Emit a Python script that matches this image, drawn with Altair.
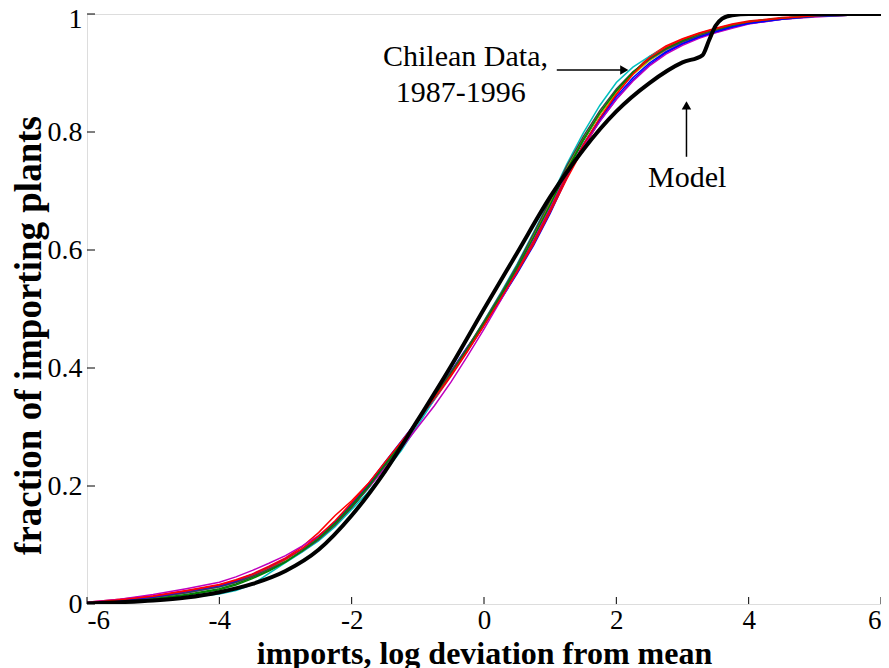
import altair as alt
import pandas as pd

# ---------------- data ----------------
x_grid = [-6, -5.5, -5, -4.5, -4, -3.75, -3.5, -3.25, -3, -2.75, -2.5, -2.25, -2,
          -1.75, -1.5, -1.25, -1, -0.75, -0.5, -0.25, 0, 0.25, 0.5, 0.75, 1, 1.25,
          1.5, 1.75, 2, 2.25, 2.5, 2.75, 3, 3.25, 3.5, 3.75, 4, 4.5, 5, 5.5, 6]

years = ["1987", "1988", "1989", "1990", "1991", "1992", "1993", "1994", "1995", "1996"]
year_colors = ["#0000FF", "#008000", "#FF0000", "#00BFBF", "#BF00BF",
               "#BFBF00", "#404040", "#0000FF", "#008000", "#FF0000"]

y1987 = [0.002, 0.005, 0.011, 0.019, 0.029, 0.037, 0.047, 0.060, 0.074, 0.092, 0.113, 0.139, 0.170,
         0.203, 0.240, 0.276, 0.312, 0.352, 0.394, 0.436, 0.474, 0.515, 0.560, 0.608, 0.662, 0.722,
         0.776, 0.818, 0.856, 0.888, 0.914, 0.934, 0.949, 0.960, 0.969, 0.977, 0.984, 0.991, 0.996, 0.998, 1.0]
y1988 = [0.001, 0.004, 0.009, 0.016, 0.026, 0.034, 0.045, 0.057, 0.071, 0.089, 0.109, 0.134, 0.163,
         0.196, 0.233, 0.270, 0.309, 0.349, 0.389, 0.430, 0.474, 0.520, 0.568, 0.620, 0.676, 0.733,
         0.785, 0.830, 0.868, 0.899, 0.922, 0.940, 0.953, 0.964, 0.973, 0.980, 0.986, 0.993, 0.997, 0.999, 1.0]
y1989 = [0.003, 0.008, 0.014, 0.023, 0.033, 0.041, 0.051, 0.064, 0.078, 0.097, 0.121, 0.150, 0.175,
         0.204, 0.238, 0.272, 0.308, 0.346, 0.386, 0.428, 0.472, 0.516, 0.562, 0.610, 0.664, 0.720,
         0.772, 0.820, 0.864, 0.900, 0.928, 0.946, 0.958, 0.968, 0.976, 0.983, 0.988, 0.994, 0.997, 0.998, 1.0]
y1990 = [0.001, 0.003, 0.006, 0.011, 0.017, 0.023, 0.033, 0.052, 0.070, 0.088, 0.107, 0.131, 0.160,
         0.190, 0.224, 0.260, 0.303, 0.347, 0.390, 0.434, 0.480, 0.527, 0.576, 0.630, 0.686, 0.745,
         0.798, 0.845, 0.884, 0.910, 0.928, 0.943, 0.955, 0.965, 0.973, 0.980, 0.986, 0.993, 0.997, 0.999, 1.0]
y1991 = [0.003, 0.008, 0.016, 0.026, 0.037, 0.046, 0.057, 0.069, 0.082, 0.098, 0.116, 0.139, 0.166,
         0.196, 0.230, 0.264, 0.300, 0.336, 0.376, 0.420, 0.466, 0.514, 0.564, 0.617, 0.672, 0.728,
         0.776, 0.818, 0.855, 0.886, 0.912, 0.932, 0.947, 0.959, 0.968, 0.976, 0.983, 0.991, 0.995, 0.998, 1.0]
y1992 = [0.002, 0.006, 0.012, 0.020, 0.030, 0.038, 0.048, 0.060, 0.074, 0.091, 0.111, 0.136, 0.166,
         0.198, 0.236, 0.273, 0.311, 0.351, 0.392, 0.434, 0.478, 0.524, 0.572, 0.625, 0.680, 0.738,
         0.788, 0.830, 0.866, 0.897, 0.921, 0.939, 0.952, 0.963, 0.972, 0.979, 0.985, 0.992, 0.996, 0.998, 1.0]
y1993 = [0.002, 0.005, 0.011, 0.019, 0.029, 0.037, 0.047, 0.059, 0.072, 0.089, 0.109, 0.134, 0.164,
         0.197, 0.235, 0.273, 0.312, 0.352, 0.393, 0.435, 0.479, 0.525, 0.574, 0.628, 0.684, 0.742,
         0.792, 0.836, 0.873, 0.902, 0.923, 0.940, 0.953, 0.963, 0.972, 0.979, 0.985, 0.992, 0.996, 0.998, 1.0]
y1994 = [0.002, 0.006, 0.012, 0.021, 0.031, 0.039, 0.050, 0.062, 0.076, 0.093, 0.114, 0.140, 0.170,
         0.201, 0.237, 0.273, 0.310, 0.349, 0.389, 0.431, 0.473, 0.518, 0.565, 0.614, 0.668, 0.726,
         0.779, 0.822, 0.860, 0.892, 0.917, 0.936, 0.950, 0.961, 0.970, 0.978, 0.984, 0.991, 0.996, 0.998, 1.0]
y1995 = [0.001, 0.004, 0.008, 0.015, 0.024, 0.032, 0.043, 0.056, 0.071, 0.090, 0.111, 0.137, 0.167,
         0.199, 0.236, 0.272, 0.310, 0.350, 0.390, 0.432, 0.476, 0.522, 0.570, 0.622, 0.677, 0.735,
         0.787, 0.832, 0.870, 0.901, 0.925, 0.942, 0.955, 0.966, 0.974, 0.981, 0.987, 0.993, 0.997, 0.999, 1.0]
y1996 = [0.002, 0.007, 0.013, 0.022, 0.032, 0.040, 0.050, 0.062, 0.076, 0.094, 0.115, 0.141, 0.172,
         0.204, 0.240, 0.275, 0.311, 0.349, 0.388, 0.429, 0.472, 0.517, 0.564, 0.614, 0.668, 0.726,
         0.778, 0.824, 0.864, 0.898, 0.926, 0.944, 0.957, 0.967, 0.975, 0.982, 0.987, 0.993, 0.997, 0.999, 1.0]
year_series = [y1987, y1988, y1989, y1990, y1991, y1992, y1993, y1994, y1995, y1996]

model_x = [-6, -5.5, -5, -4.5, -4, -3.5, -3, -2.5, -2, -1.5, -1, -0.5, 0, 0.5, 1, 1.5, 2,
           2.5, 3, 3.3, 3.4, 3.5, 3.6, 3.75, 4, 5, 6]
model_y = [0.001, 0.003, 0.006, 0.011, 0.020, 0.034, 0.056, 0.092, 0.150, 0.224, 0.312, 0.403,
           0.500, 0.595, 0.690, 0.770, 0.835, 0.883, 0.918, 0.930, 0.955, 0.980, 0.992, 0.998,
           1.0, 1.0, 1.0]

x_ticks = [-6, -4, -2, 0, 2, 4, 6]
y_ticks = [0, 0.2, 0.4, 0.6, 0.8, 1]

# annotations
ann_text = ["Chilean Data,", "1987-1996", "Model"]
ann_x = [-0.28, -0.35, 3.07]
ann_y = [0.927, 0.866, 0.722]
arrow_lines = [  # x, y, x2, y2
    (1.10, 0.905, 2.12, 0.905),
    (3.06, 0.758, 3.06, 0.845),
]
arrow_heads = [(2.12, 0.905, "triangle-right"), (3.06, 0.845, "triangle-up")]

# ---------------- build tables ----------------
rows = []
for yr, ys in zip(years, year_series):
    for xv, yv in zip(x_grid, ys):
        rows.append({"x": xv, "y": yv, "year": yr})
df = pd.DataFrame(rows)
df_model = pd.DataFrame({"x": model_x, "y": model_y})

FONT = "Liberation Serif"
xscale = alt.Scale(domain=[-6, 6], nice=False, zero=False)
yscale = alt.Scale(domain=[0, 1], nice=False, zero=False)

x_enc = alt.X("x:Q", scale=xscale, axis=alt.Axis(
    values=x_ticks, ticks=False, domain=False, grid=False, labelExpr="'' + datum.value",
    labelFont=FONT, labelFontSize=27, labelColor="black", labelPadding=3,
    title="imports, log deviation from mean", titleFont=FONT, titleFontSize=32,
    titleFontWeight="bold", titleColor="black", titleBaseline="alphabetic", titleY=59))
y_enc = alt.Y("y:Q", scale=yscale, axis=alt.Axis(
    values=y_ticks, ticks=False, domain=False, grid=False, labelExpr="'' + datum.value",
    labelFont=FONT, labelFontSize=28, labelColor="black", labelPadding=5,
    labelOffset={"condition": {"test": "datum.value == 1", "value": 5}, "value": 0},
    title="fraction of importing plants", titleFont=FONT, titleFontSize=37,
    titleFontWeight="bold", titleColor="black", titleX=-58, titleY=321,
    titleBaseline="middle", titleAlign="center", titleAngle=-90))

data_lines = alt.Chart(df).mark_line(strokeWidth=1.5, clip=True).encode(
    x=x_enc, y=y_enc,
    color=alt.Color("year:N", scale=alt.Scale(domain=years, range=year_colors), legend=None),
    detail="year:N",
)

model_line = alt.Chart(df_model).mark_line(color="black", strokeWidth=4, clip=True,
                                           interpolate="monotone").encode(
    x=alt.X("x:Q", scale=xscale), y=alt.Y("y:Q", scale=yscale)
)

# inward ticks
df_xt = pd.DataFrame({"x": x_ticks})
xt = alt.Chart(df_xt).mark_rule(color="black", strokeWidth=1).encode(
    x=alt.X("x:Q", scale=xscale), y=alt.value(590), y2=alt.value(583))
df_yt = pd.DataFrame({"y": y_ticks})
yt = alt.Chart(df_yt).mark_rule(color="black", strokeWidth=1).encode(
    y=alt.Y("y:Q", scale=yscale), x=alt.value(0), x2=alt.value(8))

df_ann = pd.DataFrame({"x": ann_x, "y": ann_y, "t": ann_text})
ann = alt.Chart(df_ann).mark_text(font=FONT, fontSize=30, color="black",
                                  align="center", baseline="middle").encode(
    x=alt.X("x:Q", scale=xscale), y=alt.Y("y:Q", scale=yscale), text="t:N")

df_arr = pd.DataFrame([{"x": a, "y": b, "x2": c, "y2": d} for a, b, c, d in arrow_lines])
arr = alt.Chart(df_arr).mark_rule(color="black", strokeWidth=1.5).encode(
    x=alt.X("x:Q", scale=xscale), y=alt.Y("y:Q", scale=yscale), x2="x2:Q", y2="y2:Q")

df_head = pd.DataFrame([{"x": a, "y": b, "s": s} for a, b, s in arrow_heads])
heads = alt.Chart(df_head).mark_point(filled=True, color="black", size=90, opacity=1).encode(
    x=alt.X("x:Q", scale=xscale), y=alt.Y("y:Q", scale=yscale),
    shape=alt.Shape("s:N", scale=None))

chart = alt.layer(data_lines, model_line, xt, yt, arr, heads, ann).properties(
    width=794, height=590,
    autosize=alt.AutoSizeParams(type="none"),
    padding={"left": 79, "top": 6, "right": 0, "bottom": 64},
).configure_view(stroke="black", strokeWidth=1).configure(background="white")

chart.save("out.html", embed_options={"renderer": "svg", "actions": False})
